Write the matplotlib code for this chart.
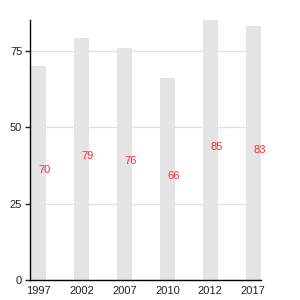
import numpy as np
import matplotlib.pyplot as plt

years = ['1997', '2002', '2007', '2010', '2012', '2017']
values = [70, 79, 76, 66, 85, 83]

plt.rcParams['font.family'] = ['Liberation Sans', 'DejaVu Sans']

fig = plt.figure(figsize=(3, 3), dpi=100)
ax = fig.add_axes([0.1, 0.0667, 0.77, 0.8667])

x = np.arange(len(years))
w = 0.36
ax.bar(x, values, width=w, color='#e4e4e4', zorder=2)

# labels sit at half height, starting from the bar centre
for xi, v in zip(x, values):
    ax.text(xi, v / 2, str(v), color='#ff2a2a', fontsize=8, ha='left', va='baseline', zorder=3)

ax.set_xlim(-w / 2 - 0.02, len(years) - 1 + w / 2)
ax.set_ylim(0, max(values))
ax.set_xticks(x)
ax.set_xticklabels(years)
ax.set_yticks([0, 25, 50, 75])
ax.yaxis.grid(True, color='#e2e2e2', linewidth=1, zorder=0)
ax.set_axisbelow(True)

ax.tick_params(axis='x', length=0, pad=4, labelsize=8, colors='#222222')
ax.tick_params(axis='y', length=3.6, width=1, pad=2, labelsize=8, colors='#222222')
for s in ['top', 'right']:
    ax.spines[s].set_visible(False)
for s in ['left', 'bottom']:
    ax.spines[s].set_linewidth(1)
    ax.spines[s].set_color('black')

plt.savefig('out.png', dpi=100)
